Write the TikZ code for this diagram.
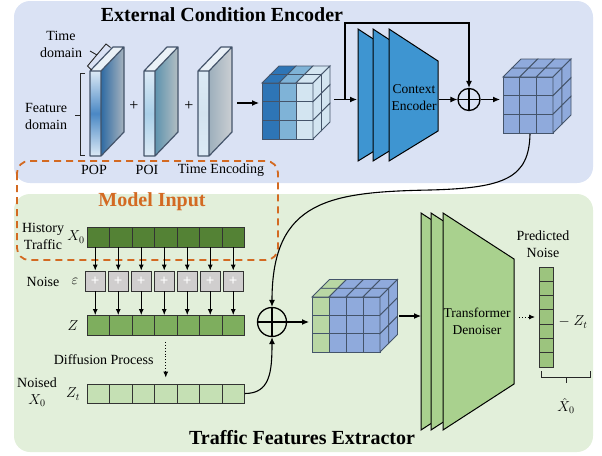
\documentclass[tikz,border=0pt]{standalone}
\usepackage{fontspec}
\setmainfont{Liberation Serif}
\usepackage{amsmath}
\usepackage{tikz}
\usetikzlibrary{positioning,arrows.meta,calc}
\definecolor{encpanel}{HTML}{DAE2F4}
\definecolor{extpanel}{HTML}{E2EFDA}
\definecolor{inputorange}{HTML}{D36A22}
\definecolor{ctxblue}{HTML}{3E95D1}
\definecolor{slate}{HTML}{44546A}
\definecolor{cubedark}{HTML}{2E75B6}
\definecolor{cubemid}{HTML}{7FB3D7}
\definecolor{cubelight}{HTML}{D3E5F1}
\definecolor{condblue}{HTML}{8FAADC}
\definecolor{condgreen}{HTML}{B9D7A4}
\definecolor{histgreen}{HTML}{548235}
\definecolor{zgreen}{HTML}{7EAE5E}
\definecolor{ztgreen}{HTML}{C5E0B4}
\definecolor{dengreen}{HTML}{A9D18E}
\definecolor{noisegray}{HTML}{D0CECE}
\definecolor{predgreen}{HTML}{9CC47E}
\definecolor{slabedge}{HTML}{DCEAF6}
\definecolor{slabtop}{HTML}{EAF1F7}
\definecolor{popmid}{HTML}{4A88C4}
\definecolor{popsideA}{HTML}{2F6BA3}
\definecolor{popsideB}{HTML}{A7B3BE}
\definecolor{poimid}{HTML}{A9CFE8}
\definecolor{poisideA}{HTML}{5E93AE}
\definecolor{poisideB}{HTML}{B3BEC3}
\definecolor{temid}{HTML}{D3E3EF}
\definecolor{tesideA}{HTML}{9DAFBC}
\definecolor{tesideB}{HTML}{CBCFD3}
% front grid, top layers and side layers of a feature cube
\newcommand{\featcube}[8]{%
  \foreach \i/\c in {#6} {
    \foreach \j in {0,1,2}
      \draw[grid,fill=\c] ({#1+#3*\i},{#2+#4*\j}) rectangle +(#3,#4);
    \foreach \k in {0,1}
      \draw[grid,fill=\c] ({#1+#3*\i+#5*\k},{#2-#5*\k}) -- +(#3,0) -- +({#3+#5},-#5) -- +(#5,-#5) -- cycle;
  }
  \foreach \k in {0,1}
    \foreach \j in {0,1,2}
      \draw[grid,fill=#8] ({#1+#3*#7+#5*\k},{#2+#4*\j-#5*\k}) -- +(#5,-#5) -- +(#5,{#4-#5}) -- +(0,#4) -- cycle;
}

\begin{document}
\begin{tikzpicture}[x=1pt,y=-1pt,every node/.style={font=\fontsize{14}{17}\selectfont}]
  \tikzstyle{panel}=[rounded corners=16pt]
  \tikzstyle{title}=[font=\fontsize{20}{24}\selectfont\bfseries]
  \tikzstyle{arr}=[-{Latex[length=7pt,width=6pt]},line width=1.1pt]
  \tikzstyle{arrs}=[-{Latex[length=6pt,width=5pt]},line width=0.9pt]
  \tikzstyle{cell}=[draw=black!80,line width=0.9pt,minimum width=22.5pt,minimum height=20pt,inner sep=0pt]
  \tikzstyle{noisecell}=[draw=black!80,fill=noisegray,line width=0.9pt,minimum width=20.5pt,minimum height=20pt,
                         inner sep=0pt,text=white,font=\fontsize{15}{15}\selectfont\bfseries]
  \tikzstyle{grid}=[draw=slate,line width=0.9pt]
  \tikzstyle{slab}=[draw=slate,line width=1.2pt,line join=round]
  \tikzstyle{plate}=[draw=black,line width=1pt]
  \tikzstyle{bracket}=[draw=black!85,line width=0.9pt]
  \tikzstyle{sum}=[circle,draw=black,line width=1.3pt,inner sep=0pt,
                   path picture={\draw[line width=1.3pt] (path picture bounding box.north) -- (path picture bounding box.south)
                                 (path picture bounding box.west) -- (path picture bounding box.east);}]
  \useasboundingbox (0,0) rectangle (602,455);
  \fill[encpanel,panel] (14,1) rectangle (593,183);
  \fill[extpanel,panel] (14,194) rectangle (593,452);
  \draw[inputorange,line width=1.8pt,dash pattern=on 7pt off 5pt,rounded corners=12pt] (17,161) rectangle (278,260);

  \node[title] (enctitle) at (222,15) {External Condition Encoder};
  \node[title,text=inputorange] (inputtitle) at (152,202) {Model Input};
  \node[title] (exttitle) at (302,438) {Traffic Features Extractor};

  \foreach \slabx/\slabf/\slaba/\slabb in {90/popmid/popsideA/popsideB,144/poimid/poisideA/poisideB,198/temid/tesideA/tesideB} {
    \shade[top color=slabedge,bottom color=slabedge,middle color=\slabf] (\slabx,71) rectangle ({\slabx+11},156);
    \shade[left color=\slaba,right color=\slabb] ({\slabx+11},71) -- ({\slabx+34},47) -- ({\slabx+34},132) -- ({\slabx+11},156) -- cycle;
    \fill[slabtop] (\slabx,71) -- ({\slabx+23},47) -- ({\slabx+34},47) -- ({\slabx+11},71) -- cycle;
    \draw[slab] (\slabx,71) rectangle ({\slabx+11},156)
                ({\slabx+11},71) -- ({\slabx+34},47) -- ({\slabx+34},132) -- ({\slabx+11},156)
                (\slabx,71) -- ({\slabx+23},47) -- ({\slabx+34},47);
  }
  \node (plusA) at (134,106) {\fontsize{16}{16}\selectfont +};
  \node (plusB) at (189,106) {\fontsize{16}{16}\selectfont +};
  \node (pop) at (94,170) {POP};
  \node (poi) at (147,170) {POI};
  \node (tenc) at (221,170) {Time Encoding};
  \node[align=center] (tdom) at (61,44) {Time\\domain};
  \node[align=center] (fdom) at (46,116) {Feature\\domain};
  \draw[bracket] (91.5,70) -- (87.5,66) -- (106,44) -- (110.5,47.5) (97,55) -- (90,51);
  \draw[bracket] (85,73) -- (80,73) -- (80,155) -- (85,155) (80,115) -- (75,115);

  \featcube{262}{83}{17}{18.67}{8.5}{0/cubedark,1/cubemid,2/cubelight}{3}{cubelight}
  \featcube{503}{77}{16.67}{18.67}{9}{0/condblue,1/condblue,2/condblue}{3}{condblue}
  \featcube{312}{297}{17}{18.33}{8.75}{0/condgreen,1/condblue,2/condblue,3/condblue}{4}{condblue}

  \foreach \tx in {358,373,389}
    \draw[plate,fill=ctxblue] (\tx,29) -- ({\tx+49},61) -- ({\tx+49},131) -- (\tx,161) -- cycle;
  \node[align=center,font=\fontsize{13.5}{17}\selectfont] (ctxenc) at (414,98) {Context\\Encoder};
  \foreach \tx in {421,431,443}
    \draw[plate,fill=dengreen] (\tx,213) -- ({\tx+71},259) -- ({\tx+71},384) -- (\tx,430) -- cycle;
  \node[align=center,font=\fontsize{13.5}{17}\selectfont] (tden) at (477,321) {Transformer\\Denoiser};

  \node[sum,minimum size=22pt] (sumA) at (469,99.5) {};
  \node[sum,minimum size=29pt] (sumB) at (272,322) {};

  \coordinate (slabOut) at (237,103);
  \coordinate (cubeAIn) at (259,103);
  \coordinate (cubeAOut) at (334,99.5);
  \coordinate (split) at (345,99.5);
  \coordinate (skipTurn) at (345,23);
  \coordinate (ctxIn) at (357,99.5);
  \coordinate (ctxOut) at (439,99.5);
  \coordinate (cubeBIn) at (500,99.5);
  \coordinate (cubeBOut) at (530,134);
  \coordinate (bend) at (430,190);
  \coordinate (cubeCIn) at (309,322);
  \coordinate (cubeCOut) at (399,316);
  \coordinate (denIn) at (421,316);
  \coordinate (denOut) at (519,317);
  \coordinate (predIn) at (535,317);

  \draw[arr] (slabOut) -- (cubeAIn);
  \draw[arr] (cubeAOut) -- (ctxIn);
  \draw[arr] (split) -- (skipTurn) -| (sumA.north);
  \draw[arr] (ctxOut) -- (sumA.west);
  \draw[arr] (sumA.east) -- (cubeBIn);
  \draw[arr] (cubeBOut) .. controls (529,178) and (505,188) .. (bend)
             .. controls (330,192) and (272,200) .. (sumB.north);
  \draw[arr] (sumB.east) -- (cubeCIn);
  \draw[arr] (cubeCOut) -- (denIn);
  \draw[arrs,dotted] (denOut) -- (predIn);

  \foreach \i in {1,...,7} {
    \node[cell,fill=histgreen] (x\i) at ({75.75+22.5*\i},237) {};
    \node[noisecell] (n\i) at ({72.25+23*\i},281) {+};
    \node[cell,fill=zgreen] (z\i) at ({75.75+22.5*\i},325.5) {};
    \node[cell,fill=ztgreen,minimum height=19pt] (t\i) at ({75.75+22.5*\i},393.5) {};
    \node[cell,fill=predgreen,minimum width=14pt,minimum height=14.3pt] (p\i) at (546,{259.85+14.3*\i}) {};
    \draw[arrs] (n\i.north |- x\i.south) -- (n\i.north);
    \draw[arrs] (n\i.south) -- (n\i.south |- z\i.north);
  }
  \draw[arrs,dotted,shorten <=6pt,shorten >=6pt] (z4.south) -- (t4.north);
  \draw[arr] (t7.east) .. controls +(25,0) and +(0,35) .. (sumB.south);

  \node[align=center] (histlbl) at (43,236) {History\\Traffic};
  \node (histsym) at (76,237) {$X_0$};
  \node (noiselbl) at (43,282) {Noise};
  \node (noisesym) at (75,281) {$\varepsilon$};
  \node (zsym) at (73,326) {$Z$};
  \node (ztsym) at (73,394) {$Z_t$};
  \node[align=center] (noisedlbl) at (37,392) {Noised\\$X_0$};
  \node[anchor=east] (difflbl) at (157,360) {Diffusion Process};
  \node[align=center] (predlbl) at (543,244) {Predicted\\Noise};
  \node[anchor=west] (minuszt) at (555,322) {$-\;Z_t$};
  \draw[bracket] (541,371) -- (541,377) -- (590,377) -- (590,371) (566,377) -- (566,383);
  \node (xhat) at (566,406) {$\hat{X}_0$};
\end{tikzpicture}
\end{document}
